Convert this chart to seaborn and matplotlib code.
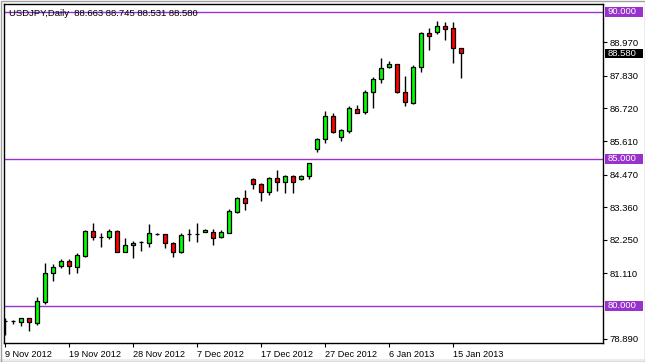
import matplotlib
matplotlib.use("Agg")
import matplotlib.pyplot as plt
from matplotlib.patches import Rectangle
import seaborn as sns
import numpy as np
import pandas as pd

# ---- data ----
opens = [79.49, 79.48, 79.45, 79.58, 79.43, 80.15, 81.11, 81.36, 81.52, 81.34,
         81.71, 82.56, 82.36, 82.34, 82.56, 81.85, 82.07, 82.17, 82.13, 82.45,
         82.44, 82.13, 81.83, 82.44, 82.45, 82.53, 82.53, 82.36, 82.49, 83.21,
         83.66, 84.32, 84.14, 83.89, 84.34, 84.21, 84.42, 84.33, 84.42, 85.33,
         85.68, 86.47, 85.76, 85.96, 86.69, 86.61, 87.27, 87.71, 88.12, 88.22,
         87.27, 86.89, 88.12, 89.28, 89.31, 89.52, 89.45, 88.77]
highs = [79.59, 79.52, 79.60, 79.60, 80.31, 81.47, 81.43, 81.59, 81.59, 81.79,
         82.59, 82.83, 82.47, 82.61, 82.58, 82.32, 82.21, 82.22, 82.79, 82.47,
         82.46, 82.19, 82.47, 82.62, 82.81, 82.63, 82.61, 82.59, 83.30, 83.72,
         83.95, 84.35, 84.19, 84.40, 84.63, 84.46, 84.46, 84.47, 84.87, 85.72,
         86.63, 86.55, 86.02, 86.80, 86.84, 87.35, 87.78, 88.43, 88.34, 88.24,
         87.82, 88.20, 89.33, 89.45, 89.69, 89.65, 89.65, 88.77]
lows = [79.01, 79.40, 79.33, 79.16, 79.35, 80.07, 80.86, 81.28, 81.08, 81.11,
        81.68, 82.24, 82.02, 82.28, 81.83, 81.84, 81.64, 81.87, 82.02, 82.42,
        81.96, 81.68, 81.81, 82.21, 82.17, 82.52, 82.07, 82.30, 82.47, 83.15,
        83.27, 83.97, 83.58, 83.78, 83.92, 83.83, 83.83, 84.29, 84.31, 85.25,
        85.55, 85.87, 85.62, 85.87, 86.56, 86.52, 86.74, 87.57, 88.11, 87.23,
        86.81, 86.88, 87.97, 88.71, 89.24, 89.05, 88.28, 87.77]
closes = [79.49, 79.48, 79.58, 79.45, 80.17, 81.11, 81.32, 81.53, 81.36, 81.73,
          82.56, 82.34, 82.36, 82.56, 81.85, 82.07, 82.13, 82.17, 82.47, 82.45,
          82.13, 81.83, 82.41, 82.44, 82.45, 82.58, 82.32, 82.51, 83.23, 83.66,
          83.49, 84.15, 83.89, 84.34, 84.23, 84.42, 84.23, 84.42, 84.85, 85.68,
          86.47, 85.93, 85.99, 86.72, 86.57, 87.27, 87.71, 88.08, 88.22, 87.27,
          86.93, 88.12, 89.28, 89.17, 89.51, 89.43, 88.77, 88.62]

date_tick_labels = ["9 Nov 2012", "19 Nov 2012", "28 Nov 2012", "7 Dec 2012",
                    "17 Dec 2012", "27 Dec 2012", "6 Jan 2013", "15 Jan 2013"]
date_tick_bars = [0, 8, 16, 24, 32, 40, 48, 56]
price_ticks = [88.970, 87.830, 86.720, 85.610, 84.470, 83.360, 82.250, 81.110, 78.890]
level_lines = [80.0, 85.0, 90.0]
last_price = 88.580
title_text = "USDJPY,Daily  88.663 88.745 88.531 88.580"

df = pd.DataFrame({"bar": np.arange(len(opens)), "open": opens, "high": highs,
                   "low": lows, "close": closes})
df["bottom"] = df[["open", "close"]].min(axis=1)
df["height"] = (df["close"] - df["open"]).abs()
df["color"] = np.where(df["close"] >= df["open"], "#00ff00", "#ff0000")

# ---- style ----
sns.set_theme(style="white")
plt.rcParams['font.family'] = ['Liberation Sans', 'DejaVu Sans']

W, H = 645, 362
fig = plt.figure(figsize=(W / 100, H / 100), dpi=100, facecolor="white")
ax = fig.add_axes([4 / W, 1 - 343 / H, 599 / W, 339 / H])
ax.set_facecolor("white")

purple = "#9932CC"
for lv in level_lines:
    ax.axhline(lv, color=purple, lw=1, zorder=1)

# wicks and bodies
ax.vlines(df["bar"], df["low"], df["high"], color="black", lw=1, zorder=2)
ax.bar(df["bar"], df["height"], bottom=df["bottom"], width=0.6,
       color=df["color"], edgecolor="black", linewidth=0.9, zorder=3)

ax.set_xlim(-0.125, 74.75)
ax.set_ylim(78.741, 90.272)

for s in ax.spines.values():
    s.set_visible(True)
    s.set_color("black")
    s.set_linewidth(1)

# y axis on right
ax.yaxis.tick_right()
ax.set_yticks(price_ticks)
ax.set_yticklabels([f"{v:.3f}" for v in price_ticks])
ax.tick_params(axis="y", which="both", right=True, left=False, length=3,
               width=0.8, color="black", pad=2, labelsize=6.8, labelcolor="black")

# x axis
ax.set_xticks(date_tick_bars)
ax.set_xticklabels(date_tick_labels)
ax.tick_params(axis="x", bottom=True, length=3, width=0.8, color="black",
               pad=2, labelsize=6.6, labelcolor="black")
for lbl in ax.get_xticklabels():
    lbl.set_horizontalalignment("left")

# highlighted price labels (box spans from the axis to the window edge)
ytr = ax.get_yaxis_transform()
box_x0 = 1 + 2 / 599
box_w = 38 / 599
box_h = 9.5 / 29.4
txt_x = 1 + 5 / 599
for lv in level_lines:
    ax.add_patch(Rectangle((box_x0, lv - box_h / 2), box_w, box_h, transform=ytr,
                           fc=purple, ec="none", clip_on=False, zorder=4))
    ax.text(txt_x, lv, f"{lv:.3f}", transform=ytr, ha="left", va="center",
            fontsize=6.8, color="white", clip_on=False, zorder=5)
ax.add_patch(Rectangle((box_x0, last_price - box_h / 2), box_w, box_h, transform=ytr,
                       fc="black", ec="none", clip_on=False, zorder=4))
ax.text(txt_x, last_price, f"{last_price:.3f}", transform=ytr, ha="left",
        va="center", fontsize=6.8, color="white", clip_on=False, zorder=5)

# title
ax.text(5 / 599, 1 - 9 / 339, title_text, transform=ax.transAxes, ha="left",
        va="center", fontsize=6.8, color="black", zorder=5)

# window frame
fig.patches.append(Rectangle((0, 0), 1, 3.5 / H, transform=fig.transFigure,
                             fc="#ececec", ec="none", zorder=-1))
fig.patches.append(Rectangle((0.5 / W, 0.5 / H), 1 - 1 / W, 1 - 1 / H,
                             transform=fig.transFigure, fill=False,
                             ec="#a0a0a0", lw=1))

fig.savefig("out.png", dpi=100, facecolor="white")
